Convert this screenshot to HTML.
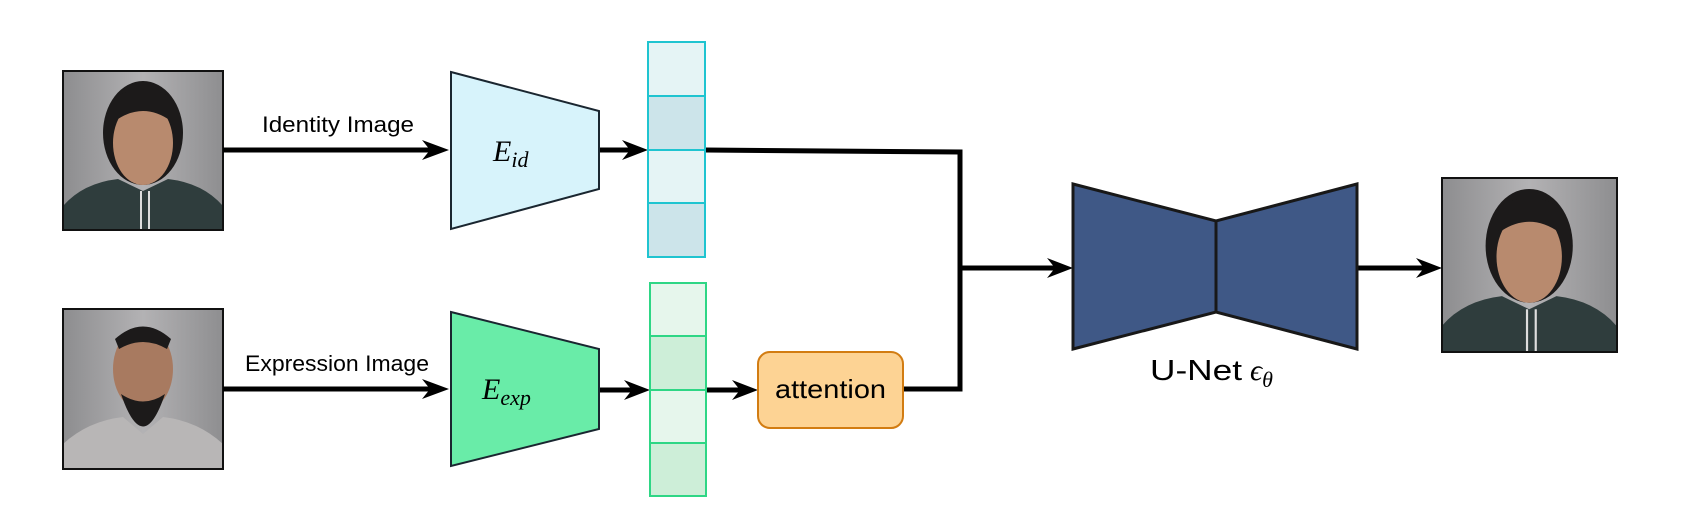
<!DOCTYPE html>
<html><head><style>
html,body{margin:0;padding:0;background:#fff;}
svg{display:block;}
</style></head><body>
<svg width="1685" height="524" viewBox="0 0 1685 524" xmlns="http://www.w3.org/2000/svg" font-family="Liberation Sans, sans-serif">
<defs>
<linearGradient id="bg" x1="0" y1="0" x2="1" y2="0"><stop offset="0" stop-color="#8d8d8f"/><stop offset="0.5" stop-color="#b3b2b4"/><stop offset="1" stop-color="#8e8e90"/></linearGradient>
<g id="face1">
<rect x="0" y="0" width="160" height="159" fill="url(#bg)"/>
<ellipse cx="80" cy="62" rx="40" ry="52" fill="#1c1a1a"/>
<ellipse cx="80" cy="72" rx="30" ry="42" fill="#b88a6e"/>
<path d="M50 28 Q80 8 110 28 L108 50 Q80 30 52 50Z" fill="#1c1a1a"/>
<path d="M0 159 L0 135 Q20 112 55 108 L80 120 L105 108 Q140 112 160 135 L160 159Z" fill="#2f3d3d"/>
<path d="M78 120 L78 159 M86 120 L86 159" stroke="#ddd" stroke-width="2"/>
</g>
</defs>
<use href="#face1" x="63" y="71"/>
<rect x="63" y="71" width="160" height="159" fill="none" stroke="#111" stroke-width="2"/>
<g transform="translate(63,309)">
<rect x="0" y="0" width="160" height="160" fill="url(#bg)"/>
<ellipse cx="80" cy="60" rx="30" ry="42" fill="#a87a60"/>
<path d="M52 30 Q80 5 108 30 L104 40 Q80 26 56 40Z" fill="#1c1a1a"/>
<path d="M58 85 Q80 150 102 85 Q80 100 58 85Z" fill="#1c1a1a"/>
<path d="M0 160 L0 135 Q25 112 60 108 L80 125 L100 108 Q135 112 160 135 L160 160Z" fill="#b8b6b6"/>
<rect x="0" y="0" width="160" height="160" fill="none" stroke="#111" stroke-width="2"/>
</g>
<g transform="translate(1442,178)">
<use href="#face1" transform="scale(1.09,1.094)"/>
<rect x="0" y="0" width="175" height="174" fill="none" stroke="#111" stroke-width="2"/>
</g>
<text x="262" y="132" font-size="22" textLength="152" lengthAdjust="spacingAndGlyphs">Identity Image</text>
<text x="245" y="371" font-size="22" textLength="184" lengthAdjust="spacingAndGlyphs">Expression Image</text>
<g stroke="#000" stroke-width="5" fill="none">
<line x1="223" y1="150" x2="440" y2="150"/>
<line x1="223" y1="389" x2="440" y2="389"/>
<line x1="599" y1="150" x2="638" y2="150"/>
<line x1="599" y1="390" x2="640" y2="390"/>
<line x1="706" y1="390" x2="748" y2="390"/>
<polyline points="705,150 960,152 960,389 903,389"/>
<line x1="960" y1="268" x2="1062" y2="268"/>
<line x1="1357" y1="268" x2="1430" y2="268"/>
</g>
<g fill="#000">
<path d="M449 150 L422 140 L430 150 L422 160Z"/>
<path d="M449 389 L422 379 L430 389 L422 399Z"/>
<path d="M648 150 L622 140 L630 150 L622 160Z"/>
<path d="M650 390 L624 380 L632 390 L624 400Z"/>
<path d="M758 390 L732 380 L740 390 L732 400Z"/>
<path d="M1073 268 L1047 258 L1055 268 L1047 278Z"/>
<path d="M1442 268 L1416 258 L1424 268 L1416 278Z"/>
</g>
<polygon points="451,72 599,111 599,189 451,229" fill="#d7f3fb" stroke="#1a2630" stroke-width="2"/>
<text x="493" y="161" font-size="30" font-family="Liberation Serif, serif" font-style="italic">E<tspan font-size="22" dy="6">id</tspan></text>
<polygon points="451,312 599,349 599,429 451,466" fill="#69eca8" stroke="#1a2630" stroke-width="2"/>
<text x="482" y="399" font-size="30" font-family="Liberation Serif, serif" font-style="italic">E<tspan font-size="22" dy="6">exp</tspan></text>
<g stroke="#1fc4d0" stroke-width="2">
<rect x="648" y="42" width="57" height="54" fill="#e5f4f5"/>
<rect x="648" y="96" width="57" height="54" fill="#cce4ea"/>
<rect x="648" y="150" width="57" height="53" fill="#e5f4f5"/>
<rect x="648" y="203" width="57" height="54" fill="#cce4ea"/>
</g>
<g stroke="#2ed685" stroke-width="2">
<rect x="650" y="283" width="56" height="53" fill="#e6f6ec"/>
<rect x="650" y="336" width="56" height="54" fill="#cdeed8"/>
<rect x="650" y="390" width="56" height="53" fill="#e6f6ec"/>
<rect x="650" y="443" width="56" height="53" fill="#cdeed8"/>
</g>
<rect x="758" y="352" width="145" height="76" rx="12" fill="#fdd394" stroke="#d27c12" stroke-width="2"/>
<text x="775" y="398" font-size="26" textLength="111" lengthAdjust="spacingAndGlyphs">attention</text>
<text x="1150" y="380" font-size="29" textLength="92" lengthAdjust="spacingAndGlyphs">U-Net</text>
<text x="1250" y="380" font-size="30" font-family="Liberation Serif, serif" font-style="italic">ϵ<tspan font-size="22" dy="7">θ</tspan></text>
<polygon points="1073,184 1216,221 1357,184 1357,349 1216,312 1073,349" fill="#3f5886" stroke="#181818" stroke-width="3"/>
<line x1="1216" y1="221" x2="1216" y2="312" stroke="#181818" stroke-width="3"/>
</svg>
</body></html>
